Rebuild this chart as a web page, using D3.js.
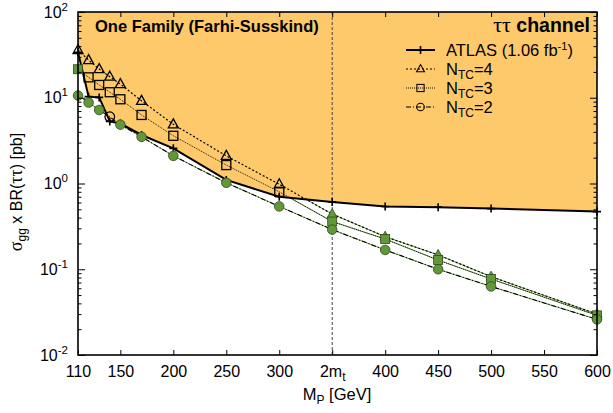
<!DOCTYPE html>
<html>
<head>
<meta charset="utf-8">
<script src="https://d3js.org/d3.v7.min.js"></script>
<style>
  body { margin: 0; background: #fff; }
  text { font-family: "Liberation Sans", Arial, sans-serif; fill: #000; }
</style>
</head>
<body>
<div id="chart"></div>
<script>
// data (mass in GeV, sigma x BR in pb)
var atlasMass = [110, 120, 130, 140, 150, 170, 200, 250, 300, 350, 400, 450, 500, 600];
var atlasLimit = [34, 10.3, 10.1, 5.3, 5.0, 3.68, 2.57, 1.1, 0.70, 0.61, 0.54, 0.53, 0.51, 0.47];

var tcMass = [110, 120, 130, 140, 150, 170, 200, 250, 300, 350, 400, 450, 500, 600];
var ntc4 = [36, 27.5, 21.6, 17.6, 14.4, 9.2, 4.9, 2.1, 0.98, 0.44, 0.24, 0.147, 0.082, 0.030];
var ntc3 = [21.5, 17.3, 14.1, 11.6, 9.6, 6.3, 3.6, 1.64, 0.80, 0.36, 0.225, 0.128, 0.077, 0.029];
var ntc2 = [10.6, 8.8, 7.2, 6.0, 4.85, 3.5, 2.1, 1.02, 0.54, 0.29, 0.168, 0.10, 0.063, 0.026];

var xTicks = [110, 150, 200, 250, 300, 350, 400, 450, 500, 550, 600];
var yTicks = [0.01, 0.1, 1, 10, 100];
var twoMt = 350;

var width = 613, height = 413;
var margin = {top: 12, right: 16, bottom: 58, left: 78};
var orange = "#fdc96b", green = "#63983a";

var svg = d3.select("#chart").append("svg")
  .attr("width", width)
  .attr("height", height);

var x = d3.scaleLinear().domain([110, 600]).range([margin.left, width - margin.right]);
var y = d3.scaleLog().domain([0.01, 100]).range([height - margin.bottom, margin.top]);

var atlas = atlasMass.map(function(m, i) { return {m: m, v: atlasLimit[i]}; });

// ATLAS limit interpolated in log space, to tell excluded points
function atlasAt(m) {
  for (var i = 0; i < atlas.length - 1; i++) {
    var a = atlas[i], b = atlas[i + 1];
    if (m >= a.m && m <= b.m) {
      var t = (m - a.m) / (b.m - a.m);
      return Math.pow(10, Math.log10(a.v) + t * (Math.log10(b.v) - Math.log10(a.v)));
    }
  }
  return atlas[atlas.length - 1].v;
}

// excluded region
svg.append("path")
  .datum(atlas)
  .attr("fill", orange)
  .attr("d", d3.area()
    .x(function(d) { return x(d.m); })
    .y0(margin.top)
    .y1(function(d) { return y(d.v); }));

// allowed region as clip for green under-lines
svg.append("clipPath").attr("id", "allowed")
  .append("path")
  .datum(atlas)
  .attr("d", d3.area()
    .x(function(d) { return x(d.m); })
    .y0(height - margin.bottom)
    .y1(function(d) { return y(d.v); }));

// 2 m_t line
svg.append("line")
  .attr("x1", x(twoMt)).attr("x2", x(twoMt))
  .attr("y1", margin.top).attr("y2", height - margin.bottom)
  .attr("stroke", "#444").attr("stroke-width", 1)
  .attr("stroke-dasharray", "3,2");

var line = d3.line()
  .x(function(d) { return x(d.m); })
  .y(function(d) { return y(d.v); });

var series = [
  {vals: ntc4, dash: "2,2", w: 1.2, shape: "tri"},
  {vals: ntc3, dash: "1,1", w: 0.9, shape: "sq"},
  {vals: ntc2, dash: "5,2,1,2", w: 1.1, shape: "circ"}
];

series.forEach(function(s) {
  s.data = tcMass.map(function(m, i) { return {m: m, v: s.vals[i]}; });
  svg.append("path").datum(s.data)
    .attr("fill", "none").attr("stroke", green).attr("stroke-width", 1)
    .attr("clip-path", "url(#allowed)")
    .attr("d", line);
  svg.append("path").datum(s.data)
    .attr("fill", "none").attr("stroke", "#000").attr("stroke-width", s.w)
    .attr("stroke-dasharray", s.dash)
    .attr("d", line);
});

// ATLAS curve
svg.append("path").datum(atlas)
  .attr("fill", "none").attr("stroke", "#000").attr("stroke-width", 2)
  .attr("d", line);
svg.selectAll(".cross").data(atlas).enter().append("path")
  .attr("transform", function(d) { return "translate(" + x(d.m) + "," + y(d.v) + ")"; })
  .attr("d", "M-4,0H4M0,-4V4")
  .attr("stroke", "#000").attr("stroke-width", 1.6);

function marker(g, shape, filled) {
  var fill = filled ? green : "none";
  var stroke = filled ? "#2f4a1c" : "#000";
  if (shape == "tri") {
    g.append("path").attr("d", "M0,-5.5L5,3.5H-5Z");
  } else if (shape == "sq") {
    g.append("rect").attr("x", -4.5).attr("y", -4.5).attr("width", 9).attr("height", 9);
  } else {
    g.append("circle").attr("r", 4.8);
  }
  g.selectAll("*").attr("fill", fill).attr("stroke", stroke)
    .attr("stroke-width", filled ? 0.8 : 1.3);
}

// draw filled markers then open ones
series.forEach(function(s) {
  s.data.forEach(function(d) {
    var g = svg.append("g")
      .attr("transform", "translate(" + x(d.m) + "," + y(d.v) + ")");
    marker(g, s.shape, d.v <= atlasAt(d.m));
  });
});

// axes with inward ticks
var xb = svg.append("g")
  .attr("transform", "translate(0," + (height - margin.bottom) + ")")
  .call(d3.axisBottom(x).tickValues(xTicks).tickSize(-5).tickPadding(11));
xb.selectAll("text")
  .style("font-size", "16px")
  .each(function(d) {
    var t = d3.select(this);
    if (d == twoMt) {
      t.text("2m");
      t.append("tspan").attr("dy", 4).style("font-size", "12px").text("t");
    }
  });
svg.append("g")
  .attr("transform", "translate(0," + margin.top + ")")
  .call(d3.axisTop(x).tickValues(xTicks.slice(1)).tickSize(-5).tickFormat(""));

var minor = [];
yTicks.slice(0, -1).forEach(function(t) {
  for (var k = 2; k <= 9; k++) minor.push(t * k);
});

var yl = svg.append("g")
  .attr("transform", "translate(" + margin.left + ",0)")
  .call(d3.axisLeft(y).tickValues(yTicks).tickSize(-7).tickPadding(10));
yl.selectAll("text")
  .style("font-size", "16px")
  .each(function(d) {
    var t = d3.select(this);
    t.text("10");
    t.append("tspan").attr("dy", -7).style("font-size", "11.5px").text(Math.round(Math.log10(d)));
  });
svg.append("g")
  .attr("transform", "translate(" + margin.left + ",0)")
  .call(d3.axisLeft(y).tickValues(minor).tickSize(-3.5).tickFormat(""));
svg.append("g")
  .attr("transform", "translate(" + (width - margin.right) + ",0)")
  .call(d3.axisRight(y).tickValues(yTicks).tickSize(-7).tickFormat(""));
svg.append("g")
  .attr("transform", "translate(" + (width - margin.right) + ",0)")
  .call(d3.axisRight(y).tickValues(minor).tickSize(-3.5).tickFormat(""));

svg.selectAll(".domain").remove();
svg.selectAll(".tick line").attr("stroke", "#000").attr("stroke-width", 1);

svg.append("rect")
  .attr("x", margin.left).attr("y", margin.top)
  .attr("width", width - margin.left - margin.right)
  .attr("height", height - margin.top - margin.bottom)
  .attr("fill", "none").attr("stroke", "#000").attr("stroke-width", 1.6);

// titles
svg.append("text")
  .attr("x", 95).attr("y", 32)
  .style("font-size", "16.5px").style("font-weight", "bold")
  .text("One Family (Farhi-Susskind)");

var ch = svg.append("text")
  .attr("x", 590).attr("y", 32).attr("text-anchor", "end")
  .style("font-size", "19.5px");
ch.append("tspan").style("font-family", "'Liberation Serif', serif").style("font-size", "22px").text("ττ ");
ch.append("tspan").style("font-weight", "bold").text("channel");

// legend
var legend = [
  {label: "ATLAS", shape: "cross", dash: null, w: 2},
  {label: "N", shape: "tri", dash: "2,2", w: 1.2},
  {label: "N", shape: "sq", dash: "1,1", w: 0.9},
  {label: "N", shape: "circ", dash: "5,2,1,2", w: 1.1}
];
var ntcLabels = ["=4", "=3", "=2"];
legend.forEach(function(l, i) {
  var ly = 50 + i * 19;
  svg.append("line")
    .attr("x1", 406).attr("x2", 435).attr("y1", ly).attr("y2", ly)
    .attr("stroke", "#000").attr("stroke-width", l.w)
    .attr("stroke-dasharray", l.dash);
  var g = svg.append("g").attr("transform", "translate(420.5," + ly + ")");
  if (l.shape == "cross") {
    g.append("path").attr("d", "M-4,0H4M0,-4V4").attr("stroke", "#000").attr("stroke-width", 1.6);
  } else {
    g.attr("transform", "translate(420.5," + ly + ") scale(0.8)");
    marker(g, l.shape, false);
  }
  var t = svg.append("text").attr("x", 446).attr("y", ly + 6).style("font-size", "16.5px");
  if (i == 0) {
    t.text("ATLAS (1.06 fb");
    t.append("tspan").attr("dy", -6).style("font-size", "11px").text("-1");
    t.append("tspan").attr("dy", 6).text(")");
  } else {
    t.text("N");
    t.append("tspan").attr("dy", 4).style("font-size", "12px").text("TC");
    t.append("tspan").attr("dy", -4).text(ntcLabels[i - 1]);
  }
});

// axis titles
var xt = svg.append("text")
  .attr("x", 337).attr("y", 400).attr("text-anchor", "middle")
  .style("font-size", "16.5px");
xt.append("tspan").text("M");
xt.append("tspan").attr("dy", 4).style("font-size", "12px").text("P");
xt.append("tspan").attr("dy", -4).text(" [GeV]");

var yt = svg.append("text")
  .attr("transform", "translate(22,192) rotate(-90)")
  .attr("text-anchor", "middle")
  .style("font-size", "16px");
yt.append("tspan").style("font-family", "'Liberation Serif', serif").style("font-size", "18px").text("σ");
yt.append("tspan").attr("dy", 4).style("font-size", "12px").text("gg");
yt.append("tspan").attr("dy", -4).text(" x BR(");
yt.append("tspan").style("font-family", "'Liberation Serif', serif").style("font-size", "18px").text("ττ");
yt.append("tspan").text(") [pb]");
</script>
</body>
</html>
